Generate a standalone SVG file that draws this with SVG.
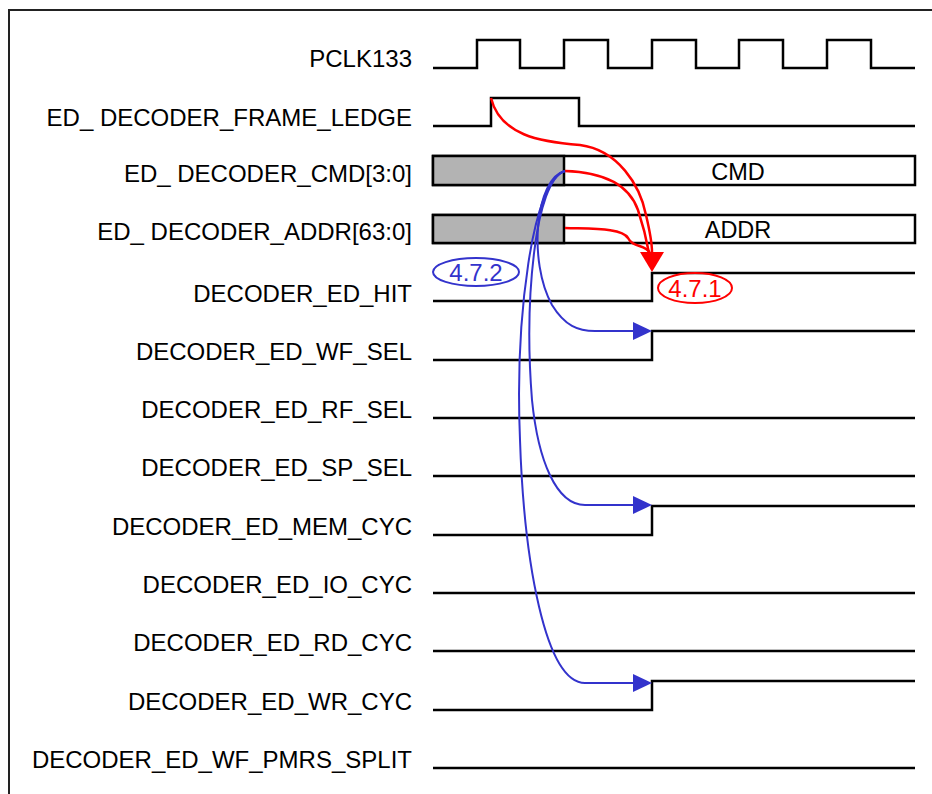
<svg xmlns="http://www.w3.org/2000/svg" width="932" height="794" viewBox="0 0 932 794">
<style>
.lbl{font-family:"Liberation Sans",Arial,sans-serif;font-size:24px;fill:#000;text-anchor:end}
.val{font-family:"Liberation Sans",Arial,sans-serif;font-size:23.5px;fill:#000;text-anchor:middle}
.wave{fill:none;stroke:#000;stroke-width:2.5;stroke-linejoin:miter}
.box{fill:#fff;stroke:#000;stroke-width:2.5}
.x{fill:#b3b3b3;stroke:#000;stroke-width:2.5}
.red{fill:none;stroke:#ff0000;stroke-width:2.5}
.blue{fill:none;stroke:#3333cc;stroke-width:2}
.tagb{font-family:"Liberation Sans",Arial,sans-serif;font-size:24px;fill:#3333cc;text-anchor:middle}
.tagr{font-family:"Liberation Sans",Arial,sans-serif;font-size:24px;fill:#ff0000;text-anchor:middle}
</style>
<defs>
<marker id="ar" markerUnits="userSpaceOnUse" markerWidth="24" markerHeight="26" refX="0" refY="12" orient="auto" viewBox="0 0 24 24" overflow="visible">
<path d="M0,0 L20,12 L0,24 z" fill="#ff0000"/>
</marker>
<marker id="ab" markerUnits="userSpaceOnUse" markerWidth="24" markerHeight="24" refX="0" refY="12" orient="auto" viewBox="0 0 24 24" overflow="visible">
<path d="M0,3 L19,12 L0,21 z" fill="#3333cc"/>
</marker>
</defs>
<rect width="932" height="794" fill="#fff"/>
<path d="M9,794 V10 H932" fill="none" stroke="#222" stroke-width="2"/>

<g id="pclk133">
<text class="lbl" x="412" y="67">PCLK133</text>
<path class="wave" d="M433,68 H477 V40 H520 V68 H564 V40 H608 V68 H652 V40 H696 V68 H739 V40 H783 V68 H827 V40 H871 V68 H915"/>
</g>
<g id="frame_ledge">
<text class="lbl" x="412" y="126">ED_ DECODER_FRAME_LEDGE</text>
<path class="wave" d="M433,126 H491 V98 H579 V126 H915"/>
</g>
<g id="cmd">
<text class="lbl" x="412" y="182">ED_ DECODER_CMD[3:0]</text>
<rect class="box" x="433" y="156" width="482" height="29"/>
<rect class="x" x="433" y="156" width="131" height="29"/>
<text class="val" x="738" y="180">CMD</text>
</g>
<g id="addr">
<text class="lbl" x="412" y="240">ED_ DECODER_ADDR[63:0]</text>
<rect class="box" x="433" y="215" width="482" height="28"/>
<rect class="x" x="433" y="215" width="131" height="28"/>
<text class="val" x="738" y="238">ADDR</text>
</g>
<g id="hit">
<text class="lbl" x="412" y="302">DECODER_ED_HIT</text>
<path class="wave" d="M433,301 H652 V273 H915"/>
</g>
<g id="wf_sel">
<text class="lbl" x="412" y="360">DECODER_ED_WF_SEL</text>
<path class="wave" d="M433,360 H652 V331 H915"/>
</g>
<g id="rf_sel">
<text class="lbl" x="412" y="418">DECODER_ED_RF_SEL</text>
<path class="wave" d="M433,418 H915"/>
</g>
<g id="sp_sel">
<text class="lbl" x="412" y="476">DECODER_ED_SP_SEL</text>
<path class="wave" d="M433,476 H915"/>
</g>
<g id="mem_cyc">
<text class="lbl" x="412" y="535">DECODER_ED_MEM_CYC</text>
<path class="wave" d="M433,535 H652 V506 H915"/>
</g>
<g id="io_cyc">
<text class="lbl" x="412" y="593">DECODER_ED_IO_CYC</text>
<path class="wave" d="M433,593 H915"/>
</g>
<g id="rd_cyc">
<text class="lbl" x="412" y="651">DECODER_ED_RD_CYC</text>
<path class="wave" d="M433,651 H915"/>
</g>
<g id="wr_cyc">
<text class="lbl" x="412" y="710">DECODER_ED_WR_CYC</text>
<path class="wave" d="M433,710 H652 V681 H915"/>
</g>
<g id="pmrs_split">
<text class="lbl" x="412" y="768">DECODER_ED_WF_PMRS_SPLIT</text>
<path class="wave" d="M433,768 H915"/>
</g>

<g id="connectors">
<path class="red" d="M491,98 C500,135 540,142 580,145 C618,150 640,185 646,215 C650,232 652,244 652,252" marker-end="url(#ar)"/>
<path class="red" d="M565,171 C600,172 628,182 638,210 C644,228 647,242 649,253"/>
<path class="red" d="M565,228 C595,229 622,228 628,238 C633,248 645,244 650,253"/>
<path class="blue" d="M565,171 C535,178 528,262 552,305 C565,326 578,331 595,331 L633,331" marker-end="url(#ab)"/>
<path class="blue" d="M565,171 C535,180 524,300 532,400 C538,460 556,505 585,505 L633,505" marker-end="url(#ab)"/>
<path class="blue" d="M565,171 C532,180 515,320 520,440 C524,560 545,683 585,683 L633,683" marker-end="url(#ab)"/>
</g>

<g id="tag_472">
<ellipse cx="476" cy="272" rx="43" ry="14" fill="none" stroke="#3333cc" stroke-width="2"/>
<text class="tagb" x="476" y="281">4.7.2</text>
</g>
<g id="tag_471">
<ellipse cx="695" cy="288" rx="37" ry="15" fill="none" stroke="#ff0000" stroke-width="2"/>
<text class="tagr" x="695" y="297">4.7.1</text>
</g>
</svg>
